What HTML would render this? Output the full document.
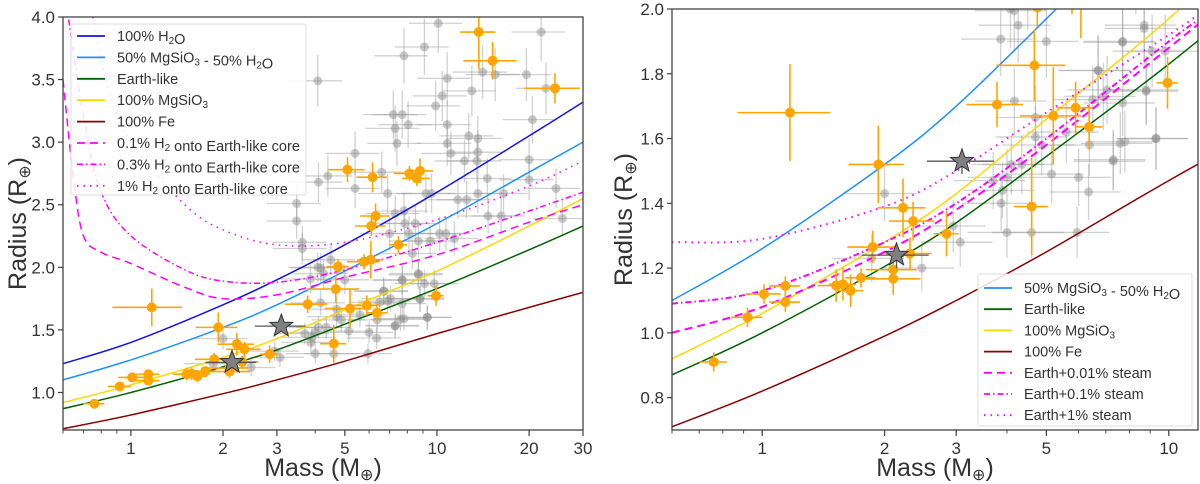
<!DOCTYPE html>
<html><head><meta charset="utf-8"><style>
html,body{margin:0;padding:0;background:#fff;}
svg{display:block;font-family:"Liberation Sans",sans-serif;}
</style></head><body>
<svg id="fig" width="1200" height="484" viewBox="0 0 1200 484" xmlns="http://www.w3.org/2000/svg"></svg>
<script>
// ---- data ----
const modelMass = [0.6, 1, 2, 3, 5, 10, 20, 30];
const rH2O = [1.23, 1.4, 1.7, 1.9, 2.18, 2.6, 3.05, 3.32];
const rHalfWater = [1.1, 1.26, 1.52, 1.7, 1.97, 2.35, 2.76, 3.0];
const rEarth = [0.87, 1.0, 1.205, 1.34, 1.545, 1.83, 2.14, 2.33];
const rMgSiO3 = [0.92, 1.06, 1.28, 1.43, 1.66, 1.97, 2.33, 2.55];
const rFe = [0.71, 0.82, 0.99, 1.1, 1.25, 1.47, 1.68, 1.8];
const h01Mass = [0.6, 0.65, 0.7, 0.8, 1, 1.5, 2, 3, 5, 10, 20, 30];
const h01R = [3.5, 2.7, 2.25, 2.12, 2.03, 1.84, 1.75, 1.78, 1.92, 2.1, 2.36, 2.5];
const h03Mass = [0.6, 0.7, 0.8, 1, 1.5, 2, 3, 5, 10, 20, 30];
const h03R = [4.3, 3.2, 2.6, 2.25, 1.98, 1.89, 1.88, 1.98, 2.2, 2.45, 2.6];
const h1Mass = [0.75, 0.85, 1, 1.5, 2, 3, 5, 10, 20, 30];
const h1R = [4.0, 3.4, 3.0, 2.5, 2.3, 2.18, 2.2, 2.38, 2.65, 2.85];
const steamMass = [0.6, 1, 2, 3, 5, 10, 12];
const steam001R = [1.0, 1.08, 1.25, 1.38, 1.58, 1.88, 1.96];
const steam01R = [1.09, 1.13, 1.28, 1.4, 1.6, 1.9, 1.97];
const steam1R = [1.28, 1.29, 1.39, 1.5, 1.68, 1.92, 1.99];

const orangeM = [0.76,0.92,1.01,1.14,1.14,1.17,1.52,1.58,1.65,1.75,1.87,1.93,2.1,2.1,2.22,2.31,2.35,2.84,3.78,4.6,4.67,5.2,5.9,6.37,9.93,4.75,5.1,5.78,6.08,6.16,6.1,6.3,7.48,8.13,8.6,8.8,13.7,15.2,24.3];
const orangeR = [0.91,1.048,1.12,1.145,1.095,1.68,1.146,1.15,1.13,1.17,1.265,1.52,1.195,1.167,1.386,1.245,1.345,1.306,1.705,1.39,1.826,1.67,1.695,1.636,1.772,2.005,2.78,2.045,2.06,2.72,2.33,2.41,2.18,2.75,2.71,2.77,3.88,3.65,3.43];
const orangeEM = [0.06,0.08,0.1,0.1,0.1,0.3,0.15,0.12,0.12,0.15,0.25,0.3,0.3,0.35,0.3,0.3,0.3,0.2,0.6,0.45,0.9,0.9,0.6,0.5,0.6,0.4,0.7,0.7,0.6,0.7,0.7,0.7,0.5,0.9,0.9,0.9,1.8,3,5];
const orangeER = [0.03,0.03,0.03,0.03,0.03,0.15,0.05,0.05,0.05,0.03,0.05,0.12,0.03,0.05,0.09,0.05,0.06,0.07,0.07,0.15,0.11,0.15,0.08,0.07,0.08,0.06,0.1,0.06,0.15,0.12,0.08,0.1,0.07,0.06,0.06,0.1,0.3,0.15,0.12];

const grayM = [3.48,3.48,4.08,4.1,4.4,5.4,5.4,7.2,7.3,7.7,8.05,7.4,7.8,9.1,10.1,9.9,10.4,10.8,10.8,10.8,11.1,12.7,13,13.6,13.6,14.1,15.5,19.6,21.9,20.5,20,20,22.7,24.5,25.7,14.6,13.6,11.7,12.5,14.7,16.2,16.5,13.5,12.3,9.2,9.6,6.9,6.6,7.3,7.8,7.85,8.5,7,8.1,8.7,9.5,10.2,11.4,10.7,3.63,3.63,4.5,4.08,4.26,5,7.7,8.3,8.7,9.8,6.7,7.05,8.8,7.8,7.3,9.3,3.86,4.17,4.17,4.7,4.7,4.87,3.7,3.9,3.87,4,4.1,4.35,5.15,5.6,6,6.35,6.38,7.3,7.6,7.7,7.7,6.7,6.5,6.9,8.7,8.8,9.3,9.1,4,4.6,5.95,2.95,3.07,2.47,2,1.86];
const grayR = [2.51,2.37,3.49,2.68,2.73,2.91,2.63,3.22,3.11,3.22,3.14,2.99,3.69,3.76,3.95,3.29,3.37,3.51,3.14,2.99,2.91,3.05,3.41,3.03,2.92,3.56,3.54,3.54,3.88,3.18,2.86,2.7,3.43,2.63,2.39,2.71,2.59,2.54,2.54,2.41,2.41,2.59,2.85,2.85,2.59,2.59,2.59,2.76,2.43,2.45,2.35,2.35,2.27,2.27,2.21,2.21,2.27,2.23,2.27,2.2,2.15,2.06,2.0,1.95,1.9,1.9,2.11,1.94,1.87,1.81,1.75,1.75,1.59,1.53,1.6,1.907,1.995,1.716,1.665,1.605,1.58,1.47,1.44,1.4,1.48,1.52,1.52,1.49,1.62,1.48,1.435,1.58,1.535,1.585,1.897,1.71,1.81,1.72,1.73,1.95,1.746,1.6,1.87,1.31,1.31,1.31,1.33,1.28,1.2,1.43,1.23];

const starM = [2.14, 3.1];
const starR = [1.24, 1.53];

const leftYTicks = [1.0,1.5,2.0,2.5,3.0,3.5,4.0];
const leftXTicks = [1,2,3,5,10,20,30];
const rightYTicks = [0.8,1.0,1.2,1.4,1.6,1.8,2.0];
const rightXTicks = [1,2,3,5,10];

// ---- drawing ----
const NS = "http://www.w3.org/2000/svg";
const svg = document.getElementById('fig');
function mk(tag, attrs, parent){ const e=document.createElementNS(NS,tag); for(const k in attrs) e.setAttribute(k,attrs[k]); (parent||svg).appendChild(e); return e; }

function smoothPath(pts){
  let d = `M${pts[0][0].toFixed(1)},${pts[0][1].toFixed(1)}`;
  for(let i=0;i<pts.length-1;i++){
    const p0=pts[Math.max(i-1,0)], p1=pts[i], p2=pts[i+1], p3=pts[Math.min(i+2,pts.length-1)];
    const c1=[p1[0]+(p2[0]-p0[0])/6, p1[1]+(p2[1]-p0[1])/6];
    const c2=[p2[0]-(p3[0]-p1[0])/6, p2[1]-(p3[1]-p1[1])/6];
    d += ` C${c1[0].toFixed(1)},${c1[1].toFixed(1)} ${c2[0].toFixed(1)},${c2[1].toFixed(1)} ${p2[0].toFixed(1)},${p2[1].toFixed(1)}`;
  }
  return d;
}

function drawPanel(cfg){
  const g = mk('g',{});
  
  
  const X = m => cfg.x0 + (Math.log10(m)-Math.log10(cfg.mMin))/(Math.log10(cfg.mMax)-Math.log10(cfg.mMin))*(cfg.x1-cfg.x0);
  const Y = r => cfg.y1 - (r-cfg.rMin)/(cfg.rMax-cfg.rMin)*(cfg.y1-cfg.y0);
  const cid = cfg.name+'-clip';
  const defs = mk('defs',{},g);
  const cp = mk('clipPath',{id:cid},defs);
  mk('rect',{x:cfg.x0,y:cfg.y0,width:cfg.x1-cfg.x0,height:cfg.y1-cfg.y0},cp);
  const plot = mk('g',{'clip-path':`url(#${cid})`},g);

  const gg = mk('g',{},plot);
  
  
  grayM.forEach((m,i)=>{
    const r=grayR[i], x=X(m), y=Y(r);
    mk('line',{x1:X(m*0.8),x2:X(m*1.2),y1:y,y2:y,stroke:'#999','stroke-opacity':0.45,'stroke-width':1.3},gg);
    mk('line',{x1:x,x2:x,y1:Y(r*0.94),y2:Y(r*1.06),stroke:'#999','stroke-opacity':0.45,'stroke-width':1.3},gg);
    const c = mk('circle',{cx:x,cy:y,r:4.5,fill:'#888','fill-opacity':0.45},gg);
    
    
  });

  cfg.curves.forEach(cv=>{
    const pts = cv.m.map((m,i)=>[X(m),Y(cv.r[i])]);
    const p = mk('path',{d:smoothPath(pts),fill:'none',stroke:cv.color,'stroke-width':cv.w||1.5},plot);
    if(cv.dash) p.setAttribute('stroke-dasharray',cv.dash);
    
    
  });

  const og = mk('g',{},plot);
  
  
  orangeM.forEach((m,i)=>{
    const r=orangeR[i], em=orangeEM[i], er=orangeER[i], x=X(m), y=Y(r);
    mk('line',{x1:X(m-em),x2:X(m+em),y1:y,y2:y,stroke:'#ffa500','stroke-width':1.6},og);
    mk('line',{x1:x,x2:x,y1:Y(r-er),y2:Y(r+er),stroke:'#ffa500','stroke-width':1.6},og);
    const c = mk('circle',{cx:x,cy:y,r:5,fill:'#ffa500'},og);
    
    
  });

  starM.forEach((m,i)=>{
    const r=starR[i], x=X(m), y=Y(r);
    mk('line',{x1:X(m*0.82),x2:X(m*1.2),y1:y,y2:y,stroke:'#555','stroke-width':1.3},plot);
    mk('line',{x1:x,x2:x,y1:Y(r-0.04),y2:Y(r+0.04),stroke:'#555','stroke-width':1.3},plot);
    let d=''; const R=12, ri=5;
    for(let k=0;k<10;k++){const a=-Math.PI/2+k*Math.PI/5, rr=k%2?ri:R; d+=(k?'L':'M')+(x+rr*Math.cos(a)).toFixed(1)+','+(y+rr*Math.sin(a)).toFixed(1);}
    const s = mk('path',{d:d+'Z',fill:'#808080',stroke:'#333','stroke-width':1},plot);
    
    
  });

  mk('rect',{x:cfg.x0,y:cfg.y0,width:cfg.x1-cfg.x0,height:cfg.y1-cfg.y0,fill:'none',stroke:'#444','stroke-width':1.3},g);

  const minor=[];
  for(let dec=-1;dec<=1;dec++) for(let k=1;k<10;k++){const v=k*Math.pow(10,dec); if(v>=cfg.mMin&&v<=cfg.mMax) minor.push(v);}
  minor.forEach(v=>mk('line',{x1:X(v),x2:X(v),y1:cfg.y1,y2:cfg.y1+3.5,stroke:'#444','stroke-width':1},g));
  cfg.xt.forEach(v=>{
    mk('line',{x1:X(v),x2:X(v),y1:cfg.y1,y2:cfg.y1+6,stroke:'#444','stroke-width':1.2},g);
    const t=mk('text',{x:X(v),y:cfg.y1+24,'text-anchor':'middle','font-size':17,fill:'#333'},g);
    t.textContent=v;
    
    
  });
  cfg.yt.forEach(v=>{
    mk('line',{x1:cfg.x0-5,x2:cfg.x0,y1:Y(v),y2:Y(v),stroke:'#444','stroke-width':1.2},g);
    const t=mk('text',{x:cfg.x0-8,y:Y(v)+6,'text-anchor':'end','font-size':17,fill:'#333'},g);
    t.textContent=v.toFixed(1);
    
    
  });
  const xl=mk('text',{x:(cfg.x0+cfg.x1)/2,y:476,'text-anchor':'middle','font-size':25,fill:'#333'},g);
  xl.innerHTML='Mass (M<tspan font-size="16" dy="4">⊕</tspan><tspan dy="-4">)</tspan>';
  
  
  const yl=mk('text',{x:0,y:0,'text-anchor':'middle','font-size':25,fill:'#333',transform:`translate(${cfg.ylx},${(cfg.y0+cfg.y1)/2}) rotate(-90)`},g);
  yl.innerHTML='Radius (R<tspan font-size="16" dy="4">⊕</tspan><tspan dy="-4">)</tspan>';
  
  

  const L=cfg.legend;
  const lg=mk('g',{},g);
  
  
  mk('rect',{x:L.x,y:L.y,width:L.w,height:L.h,fill:'#fff','fill-opacity':0.85,stroke:'#ddd','stroke-width':1,rx:2},lg);
  L.items.forEach((it,i)=>{
    const y=L.y+L.first+i*L.step;
    const ln=mk('line',{x1:L.x+6,x2:L.x+34,y1:y,y2:y,stroke:it.color,'stroke-width':1.8},lg);
    if(it.dash) ln.setAttribute('stroke-dasharray',it.dash);
    const t=mk('text',{x:L.x+46,y:y+5,'font-size':14.5,fill:'#333'},lg);
    t.innerHTML=it.label;
    
    
  });
}

const sub=s=>`<tspan font-size="10" dy="3">${s}</tspan><tspan dy="-3"></tspan>`;
const DASH='8,5', DASHDOT='6,3,1.5,3', DOT='1.5,5';

drawPanel({
  name:'left-panel', x0:63, x1:583, y0:17, y1:430, mMin:0.6, mMax:30, rMin:0.7, rMax:4.0,
  xt:leftXTicks, yt:leftYTicks, ylx:26,
  curves:[
    {id:'curve-h2o',m:modelMass,r:rH2O,color:'#1414e6'},
    {id:'curve-half-water',m:modelMass,r:rHalfWater,color:'#1e90ff'},
    {id:'curve-earth-like',m:modelMass,r:rEarth,color:'#006400'},
    {id:'curve-mgsio3',m:modelMass,r:rMgSiO3,color:'#ffd700'},
    {id:'curve-fe',m:modelMass,r:rFe,color:'#8b0000'},
    {id:'curve-h2-01',m:h01Mass,r:h01R,color:'#ff00ff',dash:DASH},
    {id:'curve-h2-03',m:h03Mass,r:h03R,color:'#ff00ff',dash:DASHDOT},
    {id:'curve-h2-1',m:h1Mass,r:h1R,color:'#ff00ff',dash:DOT}
  ],
  legend:{x:71,y:24,w:235,h:171,first:12,step:21.4,items:[
    {label:'100% H'+sub('2')+'O',color:'#1414e6'},
    {label:'50% MgSiO'+sub('3')+' - 50% H'+sub('2')+'O',color:'#1e90ff'},
    {label:'Earth-like',color:'#006400'},
    {label:'100% MgSiO'+sub('3'),color:'#ffd700'},
    {label:'100% Fe',color:'#8b0000'},
    {label:'0.1% H'+sub('2')+' onto Earth-like core',color:'#ff00ff',dash:DASH},
    {label:'0.3% H'+sub('2')+' onto Earth-like core',color:'#ff00ff',dash:DASHDOT},
    {label:'1% H'+sub('2')+' onto Earth-like core',color:'#ff00ff',dash:DOT}
  ]}
});

drawPanel({
  name:'right-panel', x0:672, x1:1198, y0:9, y1:430, mMin:0.6, mMax:11.8, rMin:0.7, rMax:2.0,
  xt:rightXTicks, yt:rightYTicks, ylx:632,
  curves:[
    {id:'curve-half-water',m:modelMass,r:rHalfWater,color:'#1e90ff'},
    {id:'curve-earth-like',m:modelMass,r:rEarth,color:'#006400'},
    {id:'curve-mgsio3',m:modelMass,r:rMgSiO3,color:'#ffd700'},
    {id:'curve-fe',m:modelMass,r:rFe,color:'#8b0000'},
    {id:'curve-steam-001',m:steamMass,r:steam001R,color:'#ff00ff',dash:DASH,w:2},
    {id:'curve-steam-01',m:steamMass,r:steam01R,color:'#ff00ff',dash:DASHDOT,w:2},
    {id:'curve-steam-1',m:steamMass,r:steam1R,color:'#ff00ff',dash:DOT,w:2}
  ],
  legend:{x:978,y:274,w:214,h:152,first:14,step:21.2,items:[
    {label:'50% MgSiO'+sub('3')+' - 50% H'+sub('2')+'O',color:'#1e90ff'},
    {label:'Earth-like',color:'#006400'},
    {label:'100% MgSiO'+sub('3'),color:'#ffd700'},
    {label:'100% Fe',color:'#8b0000'},
    {label:'Earth+0.01% steam',color:'#ff00ff',dash:DASH},
    {label:'Earth+0.1% steam',color:'#ff00ff',dash:DASHDOT},
    {label:'Earth+1% steam',color:'#ff00ff',dash:DOT}
  ]}
});
</script>
</body></html>
